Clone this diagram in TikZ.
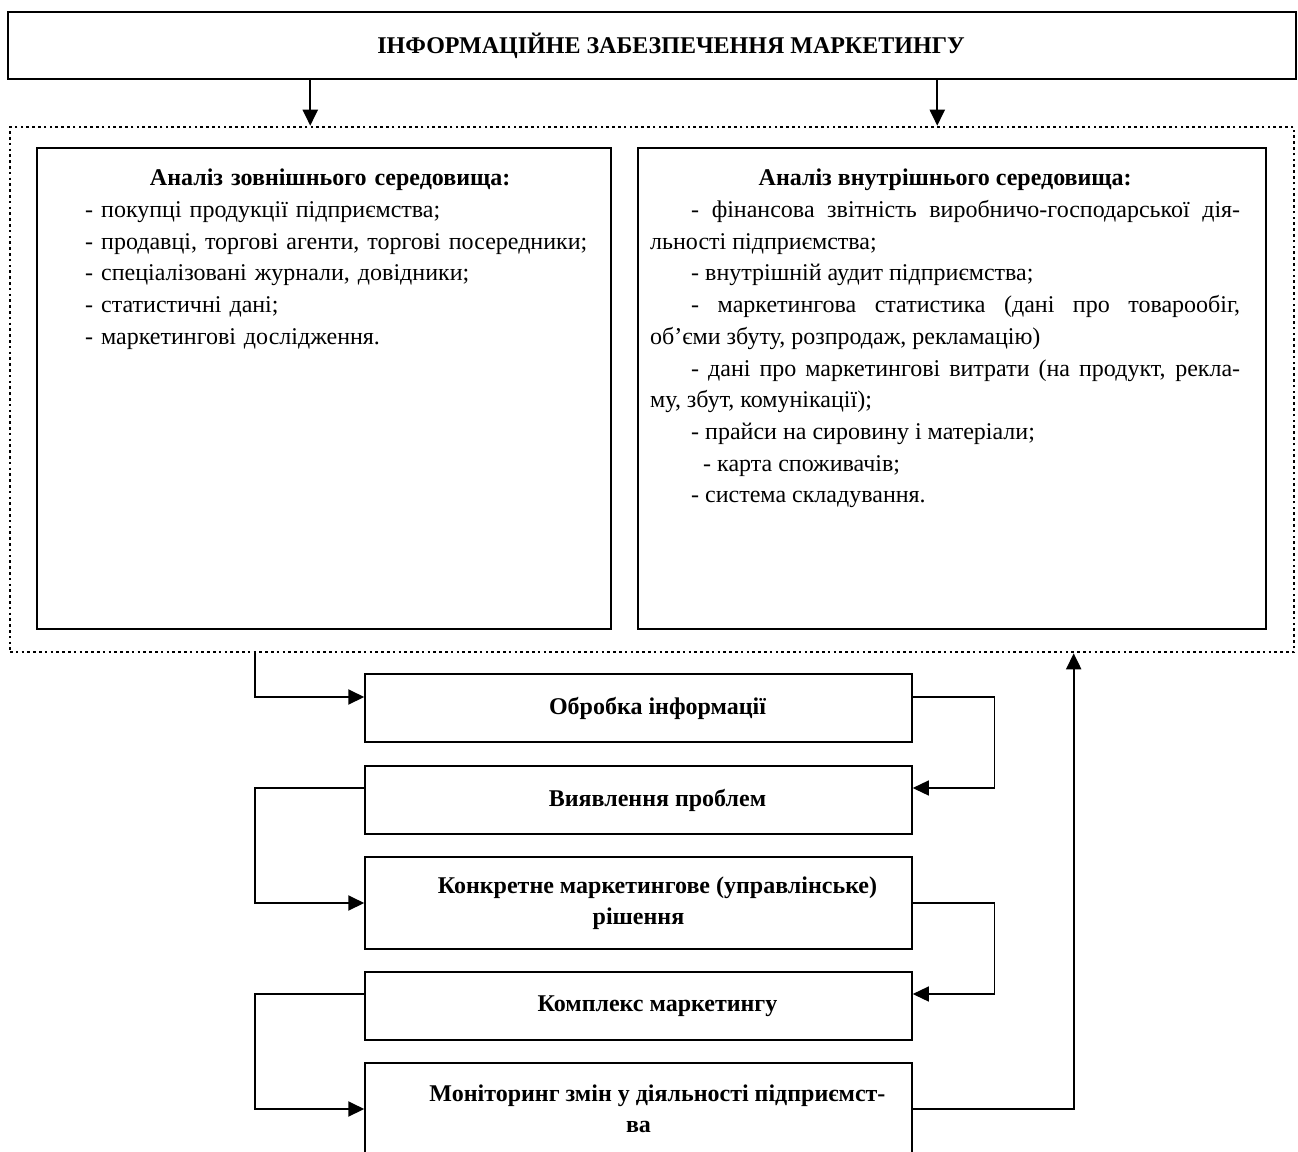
\documentclass[tikz,border=0pt]{standalone}
\usepackage{fontspec}
\setmainfont{Liberation Serif}
\usetikzlibrary{arrows.meta}
\begin{document}
\begin{tikzpicture}[
  x=1pt, y=-1pt,
  every node/.style={font=\fontsize{24}{31.7}\selectfont},
  titlebox/.style={draw, line width=1.5pt, minimum width=1288pt, minimum height=67pt, inner sep=0pt, font=\fontsize{24}{31.7}\selectfont\bfseries},
  envframe/.style={draw, line width=2.6pt, dash pattern=on 2.6pt off 3.2pt, minimum width=1284pt, minimum height=525pt, inner sep=0pt},
  panel/.style={draw, line width=1.6pt, minimum height=481pt, inner sep=0pt},
  paneltext/.style={anchor=north west, inner sep=0pt},
  stepbox/.style={draw, line width=1.5pt, minimum width=547pt, inner sep=0pt, align=center, font=\fontsize{24}{31}\selectfont\bfseries},
  link/.style={line width=2pt, -{Triangle[length=16pt, width=15pt]}},
  backlink/.style={line width=1.3pt, -{Triangle[length=16pt, width=15pt]}},
]
  \useasboundingbox (0, 0) rectangle (1298, 1151);

  \node[titlebox] (info) at (652, 45.5) {\hspace*{38pt}ІНФОРМАЦІЙНЕ ЗАБЕЗПЕЧЕННЯ МАРКЕТИНГУ};
  \node[envframe] (env) at (652, 389.5) {};

  \node[panel, minimum width=574pt] (ext) at (324, 388.5) {};
  \node[panel, minimum width=628pt] (int) at (952, 388.5) {};

  \node[paneltext, text width=530pt, align=left] (extlist) at (85, 169) {%
    \makebox[490pt]{\textbf{Аналіз зовнішнього середовища:}}\\
    - покупці продукції підприємства;\\
    - продавці, торгові агенти, торгові посередники;\\
    - спеціалізовані журнали, довідники;\\
    - статистичні дані;\\
    - маркетингові дослідження.};

  \node[paneltext, text width=590pt, align=justify] (intlist) at (650, 169) {%
    \parindent=41pt \exhyphenpenalty=10000 \hyphenpenalty=10000 \tolerance=9999
    {\centering\noindent\textbf{Аналіз внутрішнього середовища:}\par}
    - фінансова звітність виробничо-господарської дія-\linebreak льності підприємства;\par
    - внутрішній аудит підприємства;\par
    - маркетингова статистика (дані про товарообіг,\linebreak об’єми збуту, розпродаж, рекламацію)\par
    - дані про маркетингові витрати (на продукт, рекла-\linebreak му, збут, комунікації);\par
    - прайси на сировину і матеріали;\par
    \hspace*{12pt}- карта споживачів;\par
    - система складування.\par};

  \node[stepbox, minimum height=68pt] (proc) at (638.5, 708) {\hspace*{38pt}Обробка інформації};
  \node[stepbox, minimum height=68pt] (probl) at (638.5, 800) {\hspace*{38pt}Виявлення проблем};
  \node[stepbox, minimum height=92pt] (decis) at (638.5, 903) {\hspace*{38pt}Конкретне маркетингове (управлінське)\\рішення};
  \node[stepbox, minimum height=68pt] (mix) at (638.5, 1006) {\hspace*{38pt}Комплекс маркетингу};
  \node[stepbox, minimum height=92pt] (monit) at (638.5, 1109) {\hspace*{38pt}Моніторинг змін у діяльності підприємст-\\ва};

  \draw[link] ([xshift=303pt]info.south west) coordinate (a1) -- (a1 |- env.north);
  \draw[link] ([xshift=930pt]info.south west) coordinate (a2) -- (a2 |- env.north);

  \draw[link] ([xshift=246pt]env.south west) |- ([yshift=11pt]proc.west);
  \draw[backlink] ([yshift=11pt]proc.east) -- ++(82, 0) |- ([yshift=12pt]probl.east);
  \draw[link] ([yshift=12pt]probl.west) -- ++(-109, 0) |- (decis.west);
  \draw[backlink] (decis.east) -- ++(82, 0) |- ([yshift=12pt]mix.east);
  \draw[link] ([yshift=12pt]mix.west) -- ++(-109, 0) |- (monit.west);
  \draw[link] (monit.east) -| ([xshift=1065pt]env.south west);
\end{tikzpicture}
\end{document}
